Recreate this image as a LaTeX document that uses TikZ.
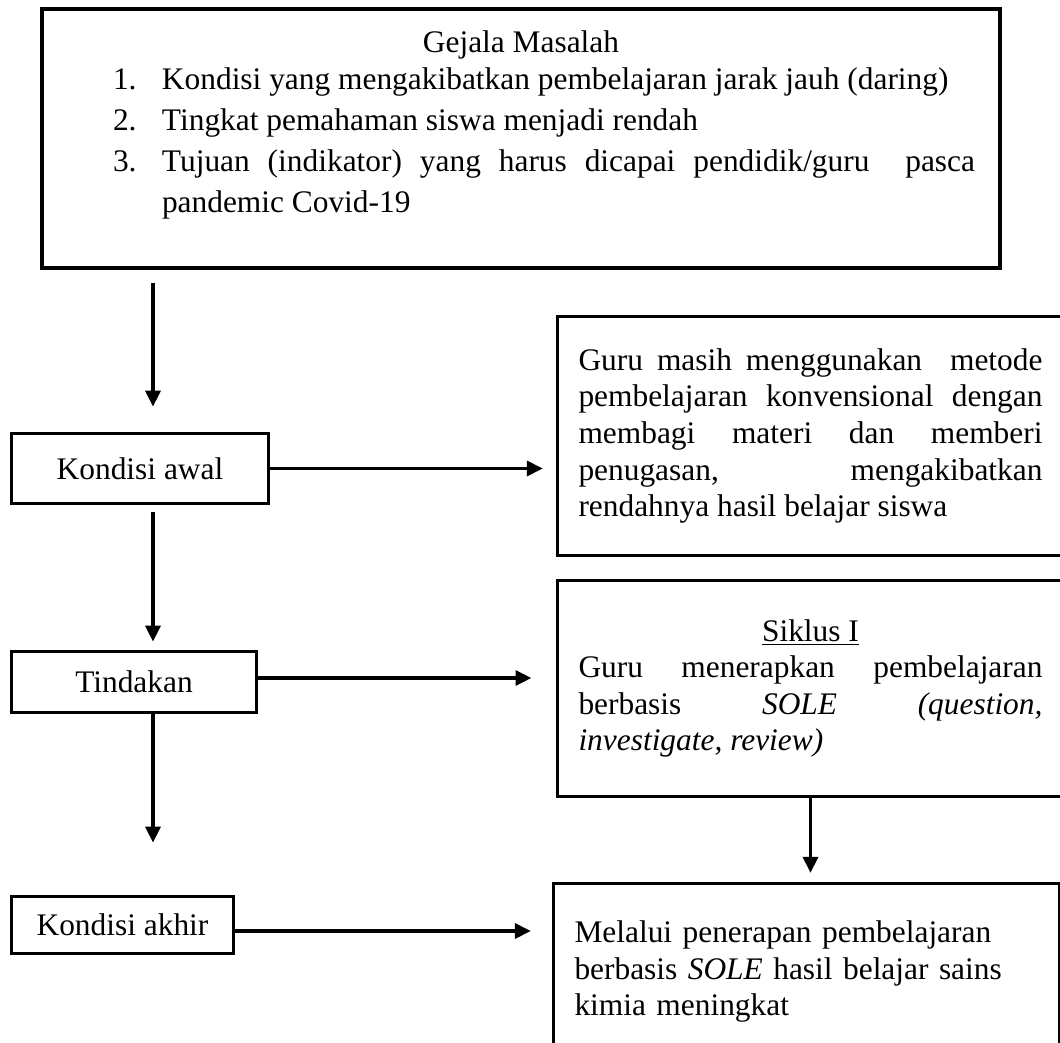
\documentclass[tikz,border=0pt]{standalone}
\usepackage{fontspec}
\setmainfont{Liberation Serif}
\usepackage{tikz}
\usetikzlibrary{arrows.meta, positioning}
\tikzstyle{problem} = [rectangle, draw=black, line width=1.6pt, inner sep=0pt, outer sep=0pt]
\tikzstyle{stage} = [rectangle, draw=black, line width=1.6pt, inner sep=0pt, outer sep=0pt, text centered]
\tikzstyle{outcome} = [rectangle, draw=black, line width=1.6pt, inner xsep=10.5pt, inner ysep=0pt, outer sep=0pt, text width=232pt, align=justify]
\tikzstyle{arrow} = [line width=1.9pt, -{Triangle[length=8pt, width=7.4pt]}]

\begin{document}
\begin{tikzpicture}[x=0.5pt, y=-0.5pt, font=\fontsize{15.7}{18.3}\selectfont]
    \useasboundingbox (0,0) rectangle (1060,1043);
    \clip (0,0) rectangle (1060,1043);
    \coordinate (col) at (153,0);

    % problem box
    \node (gejala) [problem, anchor=north west] at (42,9) {\parbox[t][129.5pt][t]{479pt}{%
        \fontsize{15.7}{20.5}\selectfont\tolerance=10000
        {\centering\rule{0pt}{22pt}Gejala Masalah\par}
        \vspace{-2pt}
        \leftskip=35.5pt \rightskip=12.5pt
        \makebox[24.5pt][l]{1.}\hangindent=24.5pt Kondisi yang mengakibatkan pembelajaran jarak jauh (daring)\par
        \makebox[24.5pt][l]{2.}\hangindent=24.5pt Tingkat pemahaman siswa menjadi rendah\par
        \makebox[24.5pt][l]{3.}\hangindent=24.5pt Tujuan (indikator) yang harus dicapai pendidik/guru\ \ pasca\linebreak pandemic Covid-19\par}};

    % left column
    \node (awal) [stage, anchor=north west, minimum width=128.5pt, minimum height=35pt] at (11.5,433.5) {Kondisi awal};
    \node (tindakan) [stage, below=74pt of awal.south west, anchor=north west, minimum width=122.5pt, minimum height=30.5pt] {Tindakan};
    \node (akhir) [stage, below=92pt of tindakan.south west, anchor=north west, minimum width=111pt, minimum height=28.5pt] {Kondisi akhir};

    % right column
    \node (metode) [outcome, anchor=north west, minimum height=119.5pt] at (557.5,316.5) {\tolerance=10000
        Guru masih menggunakan\ \ metode\linebreak pembelajaran konvensional dengan\linebreak membagi materi dan memberi\linebreak penugasan, mengakibatkan\linebreak rendahnya hasil belajar siswa};
    \node (siklus) [outcome, below=12.5pt of metode.south west, anchor=north west, minimum height=108pt] {\tolerance=10000
        {\centering\underline{Siklus I}\par}
        Guru menerapkan pembelajaran\linebreak berbasis \textit{SOLE} \textit{(question,}\linebreak \textit{investigate, review)}};
    \node (hasil) [outcome, below=43.5pt of siklus.south west, anchor=north west, xshift=-2pt, minimum height=88pt, align=left]
        {Melalui penerapan pembelajaran\\ berbasis \textit{SOLE} hasil belajar sains\\ kimia meningkat};

    % connectors
    \draw [arrow, shorten <=7.4pt, shorten >=13.4pt] (gejala.south -| col) -- (awal.north -| col);
    \draw [arrow, shorten <=4.1pt, shorten >=4.9pt] (awal.south -| col) -- (tindakan.north -| col);
    \draw [arrow, shorten >=26.9pt] (tindakan.south -| col) -- (akhir.north -| col);
    \draw [arrow, shorten >=5.3pt] (siklus.south) -- (siklus.south |- hasil.north);
    \draw [arrow, shorten >=7.3pt] (awal.east) -- (awal.east -| metode.west);
    \draw [arrow, shorten >=13pt] ([yshift=2pt]tindakan.east) -- ([yshift=2pt]tindakan.east -| siklus.west);
    \draw [arrow, shorten >=11.3pt] ([yshift=-3pt]akhir.east) -- ([yshift=-3pt]akhir.east -| hasil.west);
\end{tikzpicture}
\end{document}
